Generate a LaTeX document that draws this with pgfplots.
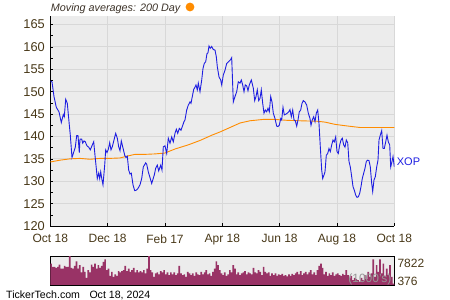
\documentclass[border=0pt]{standalone}
\usepackage{fontspec}
\setmainfont{Liberation Sans}
\usepackage{pgfplots}
\pgfplotsset{compat=1.18}
\usepackage{pgfplotstable}
\definecolor{bg}{RGB}{236,236,236}
\definecolor{gridc}{RGB}{216,216,216}
\definecolor{lab}{RGB}{72,56,24}
\definecolor{pricec}{RGB}{30,30,225}
\definecolor{mac}{RGB}{255,140,0}
\definecolor{volc}{RGB}{153,51,102}
\definecolor{kgrey}{RGB}{150,150,150}

\pgfplotstableread{
x y
50.7 152.4
52 152.2
54 148.9
56.3 146.5
59 145.5
61.3 143.1
63.3 144.9
64.3 144.4
65.7 148.3
67.3 147.4
69 143.3
70.3 140.3
72 135.3
73.3 136.2
75.3 137.6
76.7 140.2
78 140.2
79.3 136.4
80 139.4
81.7 139.4
82.7 138.5
84 139.0
85.3 138.8
87 137.9
88.7 137.6
90.3 137.0
92.3 138.1
93.7 138.8
95.3 135.1
97.3 130.6
98.7 131.8
99.7 130.6
100.7 132.1
102 130.3
103 129.2
104.7 133.6
105.7 137.0
107 136.4
108.3 137.1
109.7 138.6
111 137.0
112.3 137.7
114 139.2
115.7 140.7
117.3 139.6
118.7 137.7
120 136.8
121.3 139.0
122.7 137.7
124.7 135.8
126 135.3
127.3 135.6
128.7 132.5
130 131.6
131.3 131.8
133 129.2
134.7 127.9
136.3 128.0
138 128.4
140 129.2
141.7 130.6
143.3 133.2
145.7 134.1
146.7 133.8
148.3 132.1
151.7 129.5
154.3 131.4
155.7 132.9
157.3 133.6
158.7 132.3
160.7 133.6
162 132.5
163.3 137.7
165 137.9
166.7 136.2
168.3 139.6
170 138.5
171.7 139.9
173.3 138.8
175 140.7
176.3 141.6
177.7 140.7
179.3 141.8
181 141.4
182.3 142.2
184 143.3
185 143.7
186.7 145.9
188.3 147.0
190 147.7
191 147.4
192.3 148.9
193.7 150.5
195 151.0
196 151.5
197.3 150.4
198.3 151.9
200 150.0
201.7 152.6
203 155.2
204.3 156.3
205.7 156.7
207 158.5
208 158.7
209 160.2
210.3 159.7
211.7 160.1
213.3 159.4
215 159.3
216.3 157.8
217.3 155.6
219 153.3
220.7 152.6
221.7 151.5
223.3 153.7
225 154.8
226.7 156.3
228.7 156.7
230.7 157.2
231.7 157.6
233.3 147.7
235 148.9
236.7 150.0
238.3 152.2
240 151.9
241.3 152.6
242.7 151.5
244 150.0
245.3 151.5
246.7 151.3
248 150.2
249.3 151.5
251.3 152.6
253.3 150.8
254.7 148.0
256 148.9
257.3 150.4
258.7 148.0
260 148.5
261.3 150.4
262.7 147.4
264 145.2
265.3 145.9
266.7 145.5
268 146.3
269.3 145.5
270.7 148.9
272 147.7
273.3 145.2
275 144.0
276.7 142.3
278 142.2
279.3 142.5
280.7 144.0
281.7 143.7
283 146.5
284.3 144.8
286 145.0
287.3 145.2
288.7 145.5
290 146.0
291.3 144.4
292.7 145.9
294 143.7
295.3 143.5
296.7 142.3
298 143.7
299.3 145.5
300.7 145.9
302 147.4
303.3 148.0
305 147.7
306.7 147.0
308.3 145.2
310 144.0
311 142.5
312.3 143.7
313.7 144.4
315 143.3
316.3 145.2
317.7 145.9
319 142.9
320.3 137.7
321.7 132.5
322.7 130.6
324 131.4
325 132.1
326.3 135.8
327.7 136.2
329 137.3
330.3 136.6
331.7 138.1
333 139.2
334.3 138.8
335.7 139.9
337 136.6
338.3 136.2
339.7 138.1
341 139.2
342.3 139.6
343.7 138.1
345 137.6
346.3 139.2
347.7 138.6
349 134.4
350.3 133.2
351.7 131.0
353 128.8
354.3 128.0
355.7 126.9
357 126.4
358.3 126.5
359.7 127.3
361 128.8
362.3 130.6
363.7 131.8
365 132.9
366.3 134.4
367.7 134.7
369 134.6
370.3 133.2
371.7 129.5
372.7 127.7
374 130.3
375.3 131.0
376.7 133.2
378 134.7
379 139.2
380.3 140.3
381.7 141.3
383 137.3
384.3 137.3
385.7 138.8
387 140.3
388.3 138.8
389.7 138.1
390.7 133.2
392 134.4
393 135.5
394.3 133.2
}\price

\pgfplotstableread{
x y
50.3 134.3
60 134.7
70 135.0
80 135.1
90 134.9
100 135.1
110 135.1
120 135.2
127 135.6
135 136.0
145 136.0
155 136.1
165 136.3
175 137.2
188 138.1
200 139.1
212 140.3
220 141.0
230 142.0
240 143.0
250 143.5
263 143.8
275 143.8
287 143.6
300 143.5
317 143.4
325 143.2
335 142.7
345 142.4
360 142.0
394.3 142.0
}\mavg

\pgfplotstableread{
v
5875
5029
5029
4775
5029
5621
4606
4606
5283
5029
5029
7821
4775
4606
5283
6467
4606
5452
3591
5029
3760
2237
4183
3591
5621
5029
5875
4606
5452
4775
5283
6298
6975
4183
4606
2745
3760
2491
3083
2745
3929
3591
3929
4183
5283
3929
4606
3760
4183
4775
3591
4183
3591
3929
3591
4183
3337
4606
7821
4183
3591
2491
3337
3591
3083
3929
3591
4183
3083
3591
2914
3591
3083
3591
2914
3337
5283
3337
2914
3083
2491
3760
3337
2914
3337
2745
3591
3083
2914
3760
3083
3591
4183
3083
3337
2745
3760
4606
6467
5452
4183
3337
2914
3591
2745
3083
4183
3591
5452
4606
3083
3591
2914
3337
3591
3929
3083
3591
3337
3083
4775
3591
3337
4183
3760
2914
5029
3760
3337
3591
2745
3337
2914
3337
2745
3083
2914
3252
2745
2914
2576
3083
2745
3252
2914
3337
3760
3083
3929
2914
3337
3760
3083
3591
4183
3083
3591
2914
4183
5283
5875
4775
3083
3760
2745
3337
2914
3591
2745
3083
3337
2914
2745
3252
2914
4183
2914
2068
2745
1645
2237
1899
1645
1222
2237
1645
2914
1899
3760
2491
3337
6975
2491
5452
3760
6975
3337
5875
2745
4606
2914
5452
2491
714
}\volume

\begin{document}
\begin{tikzpicture}
\path[use as bounding box] (0pt,0pt) rectangle (450pt,300pt);
\begin{axis}[
  at={(50.3pt,74pt)}, anchor=south west,
  width=344pt, height=210pt, scale only axis,
  xmin=50.3, xmax=394.3, ymin=120, ymax=166.9,
  axis background/.style={fill=bg},
  axis x line*=bottom, axis y line*=left,
  axis line style={black, line width=0.8pt},
  xtick={50.3,107.63,164.97,222.3,279.63,336.97,394.3},
  xticklabels={Oct 18,Dec 18,Feb 17,Apr 18,Jun 18,Aug 18,Oct 18},
  ytick={120,125,...,165},
  minor x tick num=1, minor y tick num=1,
  tick align=inside,
  major tick length=3pt, minor tick length=3pt,
  tick style={black, line width=0.6pt},
  xmajorgrids, ymajorgrids,
  major grid style={gridc, line width=0.9pt},
  /pgf/number format/assume math mode=true,
  ticklabel style={font=\fontsize{12}{14}\selectfont, text=lab},
  yticklabel style={xshift=-2pt, font=\fontsize{12.8}{14}\selectfont},
  xticklabel style={yshift=-5pt},
  clip=true,
]
\addplot[mac, line width=0.9pt] table[x=x,y=y] {\mavg};
\addplot[pricec, line width=0.9pt] table[x=x,y=y] {\price};
\end{axis}
\begin{axis}[
  at={(50.3pt,15pt)}, anchor=south west,
  width=344pt, height=29pt, scale only axis,
  xmin=-0.5, xmax=203.5, ymin=376, ymax=7822,
  axis background/.style={fill=bg},
  axis line style={black, line width=0.9pt},
  xtick=\empty, ytick=\empty,
  ybar, bar width=1, bar shift=0pt,
]
\addplot[draw=none, fill=volc] table[x expr=\coordindex, y=v] {\volume};
\end{axis}
\node[anchor=base west, inner sep=0pt, font=\fontsize{10.8}{12}\selectfont\itshape, text={rgb,255:red,60;green,50;blue,40}] at (50.7pt,288pt) {Moving averages: 200 Day};
\fill[mac] (190pt,293pt) circle (4.4pt);
\node[anchor=base west, inner sep=0pt, font=\fontsize{11}{12}\selectfont, text=pricec] at (396.7pt,134.3pt) {XOP};
\node[anchor=base west, inner sep=0pt, font=\fontsize{12}{14}\selectfont, text=lab] at (397.3pt,32.7pt) {7822};
\node[anchor=base west, inner sep=0pt, font=\fontsize{12}{14}\selectfont, text=lab] at (397.3pt,14pt) {376};
\node[anchor=base east, inner sep=0pt, font=\fontsize{12}{14}\selectfont, text=kgrey] at (391.7pt,17pt) {(1000's)};
\node[anchor=base west, inner sep=0pt, font=\fontsize{10.6}{12}\selectfont] at (6pt,1.7pt) {TickerTech.com};
\node[anchor=base west, inner sep=0pt, font=\fontsize{10.6}{12}\selectfont] at (89.3pt,1.7pt) {Oct 18, 2024};
\end{tikzpicture}
\end{document}
